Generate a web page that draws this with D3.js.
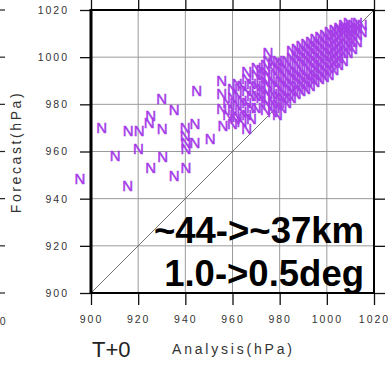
<!DOCTYPE html>
<html><head><meta charset="utf-8">
<script src="https://cdn.jsdelivr.net/npm/d3@7"></script>
<style>html,body{margin:0;padding:0;background:#fff;} svg{display:block;}</style>
</head><body><svg id="c" width="390" height="365"></svg>
<script>
// ---------- data ----------
const ticks = [900, 920, 940, 960, 980, 1000, 1020];
const xTitle = "Analysis(hPa)";
const yTitle = "Forecast(hPa)";
const leadLabel = "T+0";
const noteLines = ["~44->~37km", "1.0->0.5deg"];
const markerGlyph = "N";

// scattered (isolated) cases
const analysis = [895.3, 904.5, 910.2, 915.6, 915.8, 920.4, 920.1, 925.3, 924.7, 925.3,
  930.0, 935.3, 930.2, 930.4, 935.3, 939.9, 940.2, 939.9, 940.3, 940.3,
  944.1, 944.8, 944.1, 950.5, 955.4, 955.4, 955.4, 955.9, 961.1, 966.0];
const forecast = [948.6, 970.5, 958.5, 945.8, 969.1, 969.1, 961.6, 975.5, 972.6, 953.6,
  982.6, 977.9, 969.8, 958.2, 950.0, 970.5, 953.3, 967.0, 964.0, 961.5,
  972.0, 986.1, 964.2, 965.6, 990.3, 984.7, 978.3, 971.2, 974.1, 969.8];

// dense band: analysis value of each column and the forecasts found in it
const bandAnalysis = [958, 960, 962, 964, 966, 968, 970, 972, 974, 975, 977, 979, 981, 983, 985,
  987, 989, 991, 993, 995, 997, 999, 1001, 1003, 1005, 1007, 1009, 1011, 1013, 1015];
const bandForecast = [
  [976, 981],
  [972, 978, 983, 987],
  [975, 980, 985, 989],
  [973, 977, 982, 988],
  [976, 981, 986, 991, 994],
  [974, 979, 984, 989],
  [979, 984, 988, 993, 996],
  [983, 987, 991, 995],
  [978, 982, 986, 990, 994, 997],
  [980, 985, 989, 993, 999, 1002],
  [977, 981, 985, 990, 995, 998],
  [976, 980, 984, 988, 992, 996, 999],
  [979, 983, 986, 990, 994, 998],
  [981, 984, 988, 991, 995, 999],
  [983, 986, 989, 993, 996, 1000, 1003],
  [985, 988, 991, 994, 998, 1001, 1004],
  [986, 989, 992, 995, 999, 1002, 1005],
  [987, 990, 993, 997, 1000, 1003, 1006],
  [988, 991, 994, 998, 1001, 1004, 1007],
  [990, 993, 996, 999, 1002, 1005, 1008],
  [991, 994, 997, 1000, 1003, 1006, 1009],
  [992, 995, 998, 1001, 1004, 1007, 1010],
  [993, 996, 999, 1002, 1005, 1008, 1011],
  [995, 998, 1001, 1004, 1007, 1010, 1012],
  [997, 1000, 1003, 1006, 1009, 1012, 1013],
  [999, 1002, 1005, 1008, 1011, 1013, 1014],
  [1002, 1005, 1008, 1011, 1013, 1015],
  [1004, 1007, 1010, 1012, 1014],
  [1007, 1010, 1013, 1015],
  [1011, 1014]
];

// ---------- build table ----------
const points = analysis.map((a, i) => ({a: a, f: forecast[i]}));
bandAnalysis.forEach((a, i) => bandForecast[i].forEach(f => points.push({a: a, f: f})));

// ---------- drawing ----------
const FONT = "'Liberation Sans', Arial, Helvetica, sans-serif";
const svg = d3.select('#c').style('font-family', FONT);
const x = d3.scaleLinear().domain([900, 1020]).range([91, 374]);
const y = d3.scaleLinear().domain([900, 1020]).range([293, 10]);

// neighbour-panel remnants at the left edge
svg.append('g').selectAll('line').data(ticks).join('line')
  .attr('x1', 0).attr('x2', 5).attr('y1', d => y(d)).attr('y2', d => y(d))
  .attr('stroke', '#222').attr('stroke-width', 1.2);
svg.append('text').attr('x', -8).attr('y', 325).attr('text-anchor', 'middle')
  .attr('font-size', 10.5).attr('letter-spacing', 2).attr('fill', '#333').text('1020');

// grid
const grid = svg.append('g').attr('stroke', '#9a9a9a').attr('stroke-width', 1);
grid.selectAll('.gx').data(ticks).join('line').attr('class', 'gx')
  .attr('x1', d => x(d)).attr('x2', d => x(d)).attr('y1', y(900)).attr('y2', y(1020));
grid.selectAll('.gy').data(ticks).join('line').attr('class', 'gy')
  .attr('y1', d => y(d)).attr('y2', d => y(d)).attr('x1', x(900)).attr('x2', x(1020));

// diagonal
svg.append('line').attr('x1', x(900)).attr('y1', y(900)).attr('x2', x(1020)).attr('y2', y(1020))
  .attr('stroke', '#666').attr('stroke-width', 0.9);

// axes
function styleAxis(g) {
  g.select('.domain').remove();
  g.selectAll('.tick line').attr('stroke', '#111').attr('stroke-width', 1.3);
  g.selectAll('.tick text').attr('fill', '#333').attr('font-size', 10.5)
    .attr('letter-spacing', 2).attr('font-family', FONT);
}
svg.append('g').attr('transform', `translate(${x(900)},0)`)
  .call(d3.axisLeft(y).tickValues(ticks).tickSize(11).tickPadding(11).tickFormat(d3.format('d')))
  .call(styleAxis);
svg.append('g').attr('transform', `translate(0,${y(900)})`)
  .call(d3.axisBottom(x).tickValues(ticks).tickSize(12).tickPadding(11).tickFormat(d3.format('d')))
  .call(styleAxis);
svg.append('g').attr('transform', `translate(0,${y(1020)})`)
  .call(d3.axisTop(x).tickValues(ticks).tickSize(10).tickFormat(''))
  .call(styleAxis);
svg.append('g').attr('transform', `translate(${x(1020)},0)`)
  .call(d3.axisRight(y).tickValues(ticks).tickSize(11).tickFormat(''))
  .call(styleAxis);

// frame
svg.append('rect').attr('x', x(900)).attr('y', y(1020))
  .attr('width', x(1020) - x(900)).attr('height', y(900) - y(1020))
  .attr('fill', 'none').attr('stroke', '#000').attr('stroke-width', 2);
svg.append('line').attr('x1', x(900)).attr('x2', x(900)).attr('y1', y(1020) - 1).attr('y2', y(900) + 1)
  .attr('stroke', '#000').attr('stroke-width', 3);

// points
svg.append('g').selectAll('text').data(points).join('text')
  .attr('x', d => x(d.a)).attr('y', d => y(d.f) + 6)
  .attr('text-anchor', 'middle').attr('font-size', 15)
  .attr('fill', '#a53ce8').attr('stroke', '#a53ce8').attr('stroke-width', 0.5)
  .text(markerGlyph);

// annotation
svg.append('g').selectAll('text').data(noteLines).join('text')
  .attr('x', 364).attr('y', (d, i) => 243 + i * 43)
  .attr('text-anchor', 'end').attr('font-size', 36.5).attr('font-weight', 'bold')
  .attr('fill', '#000').text(d => d);

// titles
svg.append('text').attr('x', 172).attr('y', 354).attr('font-size', 14)
  .attr('letter-spacing', 2.8).attr('fill', '#333').text(xTitle);
svg.append('text').attr('transform', 'translate(21,152) rotate(-90)').attr('text-anchor', 'middle')
  .attr('font-size', 14).attr('letter-spacing', 2.6).attr('fill', '#333').text(yTitle);
svg.append('text').attr('x', 92).attr('y', 357).attr('font-size', 22)
  .attr('fill', '#222').text(leadLabel);
</script></body></html>
